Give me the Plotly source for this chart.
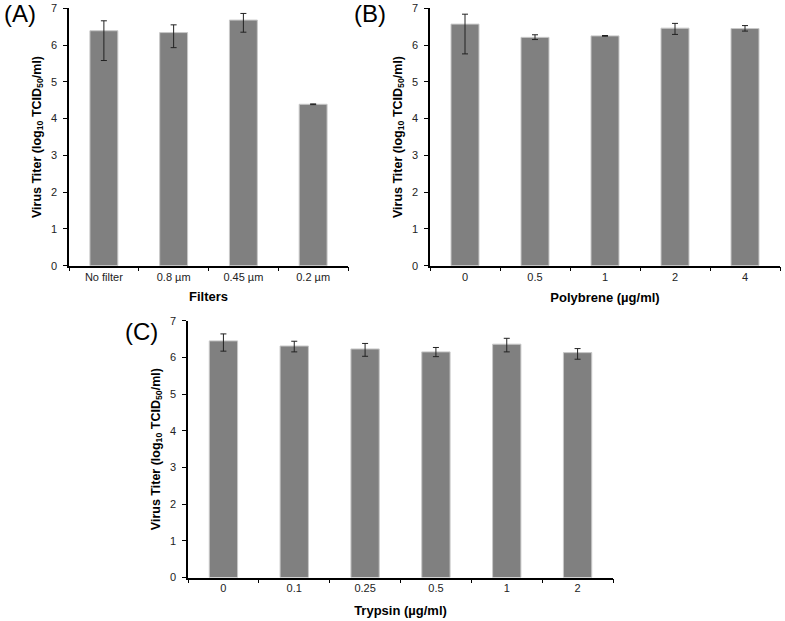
import plotly.graph_objects as go

# Panel A
filters = ["No filter", "0.8 µm", "0.45 µm", "0.2 µm"]
titer_a = [6.39, 6.34, 6.68, 4.39]
err_up_a = [0.27, 0.21, 0.18, 0.01]
err_dn_a = [0.81, 0.41, 0.33, 0.01]

# Panel B
polybrene = ["0", "0.5", "1", "2", "4"]
titer_b = [6.57, 6.21, 6.25, 6.46, 6.45]
err_up_b = [0.27, 0.07, 0.01, 0.13, 0.08]
err_dn_b = [0.81, 0.06, 0.01, 0.17, 0.07]

# Panel C
trypsin = ["0", "0.1", "0.25", "0.5", "1", "2"]
titer_c = [6.45, 6.31, 6.23, 6.15, 6.36, 6.13]
err_up_c = [0.19, 0.13, 0.15, 0.12, 0.16, 0.11]
err_dn_c = [0.28, 0.16, 0.20, 0.13, 0.21, 0.18]

ytitle = "<b>Virus Titer (log<sub>10</sub> TCID<sub>50</sub>/ml)</b>"
W, H = 785, 621
FONT = "Liberation Sans, Arial, sans-serif"

def px_x(a, b):
    return [a / W, b / W]

def px_y(top, bottom):
    return [1 - bottom / H, 1 - top / H]

fig = go.Figure()

panels = [
    ("x", "y", filters, titer_a, err_up_a, err_dn_a, "<b>Filters</b>", 10,
     px_x(69, 348), px_y(8.3, 265.7)),
    ("x2", "y2", polybrene, titer_b, err_up_b, err_dn_b, "<b>Polybrene (µg/ml)</b>", 11,
     px_x(430, 780), px_y(8.3, 265.7)),
    ("x3", "y3", trypsin, titer_c, err_up_c, err_dn_c, "<b>Trypsin (µg/ml)</b>", 12,
     px_x(188, 613), px_y(320.7, 577.5)),
]

for i, (xa, ya, cats, vals, up, dn, xtitle, stand, xd, yd) in enumerate(panels):
    fig.add_trace(go.Bar(
        x=cats, y=vals, xaxis=xa, yaxis=ya,
        marker=dict(color="#808080", line=dict(color="#c8c8c8", width=1)),
        error_y=dict(type="data", symmetric=False, array=up, arrayminus=dn,
                     color="#222222", thickness=1, width=3),
        showlegend=False,
    ))
    sfx = "" if i == 0 else str(i + 1)
    fig.layout["xaxis" + sfx] = dict(
        domain=xd, anchor=ya, showline=True, linecolor="black", linewidth=1.5,
        ticks="outside", tickson="boundaries", ticklen=4, tickcolor="black",
        tickfont=dict(size=11, color="#222222", family=FONT),
        title=dict(text=xtitle, font=dict(size=13, color="black", family=FONT), standoff=stand),
        showgrid=False, zeroline=False, fixedrange=True, automargin=False,
    )
    fig.layout["yaxis" + sfx] = dict(
        domain=yd, anchor=xa, range=[0, 7], dtick=1, showline=True, linecolor="black",
        linewidth=1.5, ticks="outside", ticklen=4, tickcolor="black", ticklabelstandoff=4,
        tickfont=dict(size=11, color="#222222", family=FONT),
        title=dict(text=ytitle, font=dict(size=12.5, color="black", family=FONT), standoff=7),
        showgrid=False, zeroline=False, fixedrange=True, automargin=False,
    )

fig.update_layout(
    width=W, height=H, margin=dict(l=0, r=0, t=0, b=0, autoexpand=False),
    paper_bgcolor="white", plot_bgcolor="white", bargap=0.6,
    font=dict(family=FONT),
    annotations=[
        dict(text="(A)", x=2 / W, y=1 - 14 / H, xref="paper", yref="paper", xanchor="left", yanchor="middle",
             showarrow=False, font=dict(size=24, color="black", family=FONT)),
        dict(text="(B)", x=352 / W, y=1 - 14 / H, xref="paper", yref="paper", xanchor="left", yanchor="middle",
             showarrow=False, font=dict(size=24, color="black", family=FONT)),
        dict(text="(C)", x=123 / W, y=1 - 331 / H, xref="paper", yref="paper", xanchor="left", yanchor="middle",
             showarrow=False, font=dict(size=24, color="black", family=FONT)),
    ],
)

fig.write_html("out.html", config={"displayModeBar": False},
               post_script="document.body.style.margin='0px';")
